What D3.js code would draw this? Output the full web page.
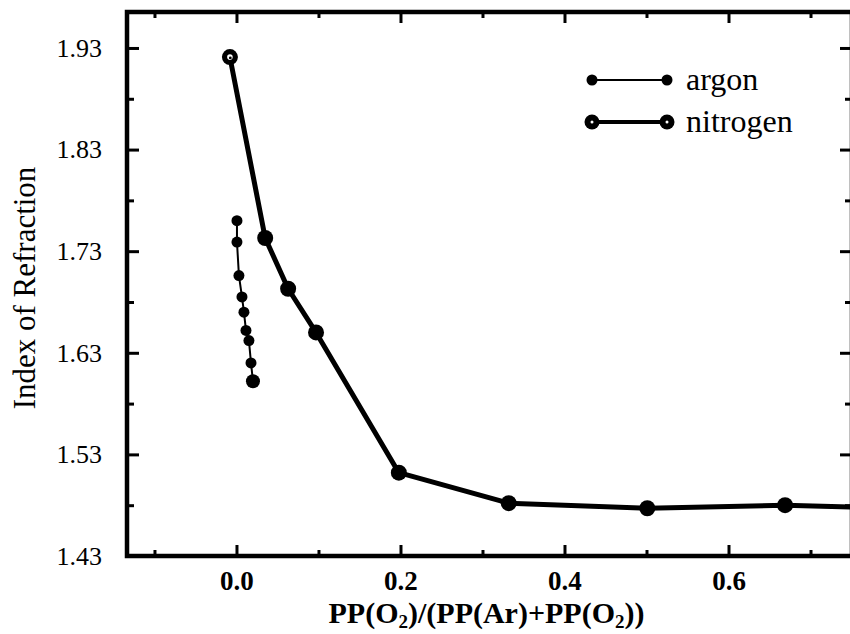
<!DOCTYPE html>
<html>
<head>
<meta charset="utf-8">
<script src="https://cdn.jsdelivr.net/npm/d3@7"></script>
<style>
  body { margin: 0; background: #fff; }
  svg { display: block; }
  text { font-family: "Liberation Serif", "Times New Roman", Times, serif; fill: #000; }
</style>
</head>
<body>
<div id="chart"></div>
<script>
// values
const argonX = [0.0006, 0.0006, 0.003, 0.0067, 0.0091, 0.0116, 0.0152, 0.0177, 0.0201];
const argonY = [1.760, 1.739, 1.706, 1.685, 1.670, 1.652, 1.642, 1.620, 1.602];

const nitrogenX = [-0.008, 0.035, 0.063, 0.097, 0.198, 0.332, 0.501, 0.669, 0.80];
const nitrogenY = [1.921, 1.743, 1.693, 1.650, 1.512, 1.482, 1.477, 1.480, 1.477];

const seriesNames = ["argon", "nitrogen"];

const xMajorTicks = [0.0, 0.2, 0.4, 0.6];
const xMinorTicks = [-0.1, 0.1, 0.3, 0.5, 0.7];
const yMajorTicks = [1.43, 1.53, 1.63, 1.73, 1.83, 1.93];
const yMinorTicks = [1.48, 1.58, 1.68, 1.78, 1.88];

const xTitle = ["PP(O", "2", ")/(PP(Ar)+PP(O", "2", "))"];
const yTitle = "Index of Refraction";

const config = {
    width: 850,
    height: 634,
    left: 127,
    right: 852,
    top: 12,
    bottom: 556
};

const svg = d3.select("#chart")
    .append("svg")
    .attr("width", config.width)
    .attr("height", config.height);

const xScale = d3.scaleLinear()
    .domain([-0.1335, 0.7506])
    .range([config.left, config.right]);

const yScale = d3.scaleLinear()
    .domain([1.43, 1.9654])
    .range([config.bottom, config.top]);

svg.append("clipPath")
    .attr("id", "plot-clip")
    .append("rect")
    .attr("x", config.left)
    .attr("y", config.top)
    .attr("width", config.right - config.left)
    .attr("height", config.bottom - config.top);

// axes: ticks point inward
const styleAxis = g => {
    g.attr("font-family", null);
    g.select(".domain").remove();
    g.selectAll(".tick line").attr("stroke", "#000").attr("stroke-width", 3);
};

svg.append("g")
    .attr("transform", "translate(0," + config.bottom + ")")
    .call(d3.axisBottom(xScale).tickValues(xMajorTicks).tickSize(-11).tickPadding(15).tickFormat(d3.format(".1f")))
    .call(styleAxis)
    .selectAll("text")
    .style("font-size", "27px")
    .style("font-weight", "bold");

svg.append("g")
    .attr("transform", "translate(0," + config.bottom + ")")
    .call(d3.axisBottom(xScale).tickValues(xMinorTicks).tickSize(-6).tickFormat(""))
    .call(styleAxis);

svg.append("g")
    .attr("transform", "translate(0," + config.top + ")")
    .call(d3.axisTop(xScale).tickValues(xMajorTicks).tickSize(-11).tickFormat(""))
    .call(styleAxis);

svg.append("g")
    .attr("transform", "translate(0," + config.top + ")")
    .call(d3.axisTop(xScale).tickValues(xMinorTicks).tickSize(-6).tickFormat(""))
    .call(styleAxis);

svg.append("g")
    .attr("transform", "translate(" + config.left + ",0)")
    .call(d3.axisLeft(yScale).tickValues(yMajorTicks).tickSize(-12).tickPadding(25).tickFormat(d3.format(".2f")))
    .call(styleAxis)
    .selectAll("text")
    .style("font-size", "26px");

svg.append("g")
    .attr("transform", "translate(" + config.left + ",0)")
    .call(d3.axisLeft(yScale).tickValues(yMinorTicks).tickSize(-7).tickFormat(""))
    .call(styleAxis);

svg.append("g")
    .attr("transform", "translate(" + config.right + ",0)")
    .call(d3.axisRight(yScale).tickValues(yMajorTicks).tickSize(-12).tickFormat(""))
    .call(styleAxis);

svg.append("g")
    .attr("transform", "translate(" + config.right + ",0)")
    .call(d3.axisRight(yScale).tickValues(yMinorTicks).tickSize(-7).tickFormat(""))
    .call(styleAxis);

// frame
svg.append("rect")
    .attr("x", config.left)
    .attr("y", config.top)
    .attr("width", config.right - config.left)
    .attr("height", config.bottom - config.top)
    .attr("fill", "none")
    .attr("stroke", "#000")
    .attr("stroke-width", 4.5);

const plot = svg.append("g").attr("clip-path", "url(#plot-clip)");

const line = d3.line()
    .x(d => xScale(d[0]))
    .y(d => yScale(d[1]));

const argon = argonX.map((x, i) => [x, argonY[i]]);
const nitrogen = nitrogenX.map((x, i) => [x, nitrogenY[i]]);

// argon
plot.append("path")
    .datum(argon)
    .attr("d", line)
    .attr("fill", "none")
    .attr("stroke", "#000")
    .attr("stroke-width", 2);

plot.selectAll(".argon-dot")
    .data(argon)
    .enter().append("circle")
    .attr("class", "argon-dot")
    .attr("cx", d => xScale(d[0]))
    .attr("cy", d => yScale(d[1]))
    .attr("r", (d, i) => i === argon.length - 1 ? 7 : 5.5)
    .attr("fill", "#000");

// nitrogen
plot.append("path")
    .datum(nitrogen)
    .attr("d", line)
    .attr("fill", "none")
    .attr("stroke", "#000")
    .attr("stroke-width", 5)
    .attr("stroke-linejoin", "round");

plot.selectAll(".nitrogen-dot")
    .data(nitrogen)
    .enter().append("circle")
    .attr("class", "nitrogen-dot")
    .attr("cx", d => xScale(d[0]))
    .attr("cy", d => yScale(d[1]))
    .attr("r", 8)
    .attr("fill", "#000");

// open centre on the first nitrogen marker
plot.append("circle")
    .attr("cx", xScale(nitrogen[0][0]))
    .attr("cy", yScale(nitrogen[0][1]))
    .attr("r", 2.8)
    .attr("fill", "#fff");
plot.append("circle")
    .attr("cx", xScale(nitrogen[0][0]) + 0.4)
    .attr("cy", yScale(nitrogen[0][1]) + 0.8)
    .attr("r", 1.4)
    .attr("fill", "#000");

// legend
const legend = svg.append("g").attr("class", "legend");
const legendRows = [
    { name: seriesNames[0], y: 80, width: 2, r: 5.5, open: false },
    { name: seriesNames[1], y: 122, width: 4, r: 7.5, open: true }
];
legendRows.forEach(row => {
    legend.append("line")
        .attr("x1", 592).attr("x2", 667)
        .attr("y1", row.y).attr("y2", row.y)
        .attr("stroke", "#000")
        .attr("stroke-width", row.width);
    [592, 667].forEach(cx => {
        legend.append("circle")
            .attr("cx", cx).attr("cy", row.y)
            .attr("r", row.r)
            .attr("fill", "#000");
        if (row.open) {
            legend.append("circle")
                .attr("cx", cx).attr("cy", row.y)
                .attr("r", 1.5)
                .attr("fill", "#fff");
        }
    });
    legend.append("text")
        .attr("x", 686)
        .attr("y", row.y + 10)
        .style("font-size", "32px")
        .text(row.name);
});

// axis titles
const xt = svg.append("text")
    .attr("x", (config.left + config.right) / 2 - 3)
    .attr("y", 623)
    .attr("text-anchor", "middle")
    .style("font-size", "30px")
    .style("font-weight", "bold");
xTitle.forEach((part, i) => {
    const isSub = i % 2 === 1;
    xt.append("tspan")
        .attr("dy", isSub ? 5 : (i === 0 ? 0 : -5))
        .style("font-size", isSub ? "19px" : "30px")
        .text(part);
});

svg.append("text")
    .attr("transform", "translate(35,288) rotate(-90)")
    .attr("text-anchor", "middle")
    .style("font-size", "31px")
    .text(yTitle);
</script>
</body>
</html>
